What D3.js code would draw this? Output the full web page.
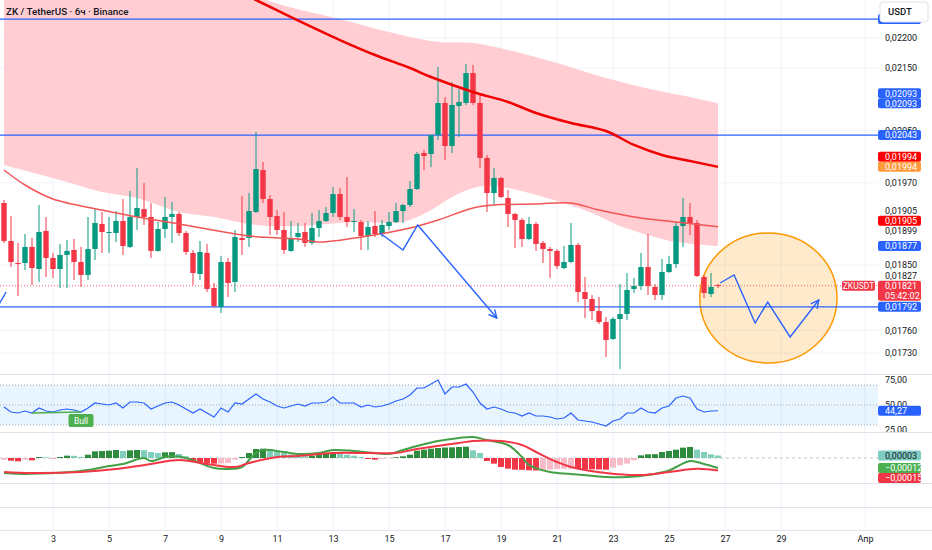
<!DOCTYPE html>
<html>
<head>
<meta charset="utf-8">
<script src="https://cdn.jsdelivr.net/npm/d3@7"></script>
<style>
  body { margin: 0; background: #fff; }
  svg { display: block; font-family: Roboto, "Noto Sans", sans-serif; }
</style>
</head>
<body>
<svg id="canvas"></svg>
<script>
// 6h candles, the first one is 1 Mar 2025 06:00 UTC
let opens = [
  0.019398, 0.018844, 0.018530, 0.018530, 0.018758, 0.018445, 0.018988, 0.018601, 0.018445, 0.018644,
  0.018715, 0.018544, 0.018361, 0.018729, 0.019090, 0.018959, 0.018959, 0.019133, 0.018758, 0.019192,
  0.019309, 0.019192, 0.018701, 0.019017, 0.019192, 0.019236, 0.018959, 0.018672, 0.018375, 0.018672,
  0.018180, 0.017918, 0.018544, 0.018263, 0.018887, 0.018887, 0.019265, 0.019892, 0.019457, 0.019206,
  0.019002, 0.018701, 0.018901, 0.018973, 0.018815, 0.019031, 0.019133, 0.019250, 0.019531, 0.019192,
  0.019119, 0.019119, 0.018916, 0.019060, 0.018944, 0.019060, 0.019119, 0.019279, 0.019368, 0.019606,
  0.020152, 0.020137, 0.020431, 0.020936, 0.020260, 0.020888, 0.020936, 0.021420, 0.020936, 0.020076,
  0.019546, 0.019771, 0.019472, 0.019236, 0.019148, 0.018872, 0.019090, 0.018815, 0.018729, 0.018701,
  0.018459, 0.018544, 0.018786, 0.018124, 0.018028, 0.017863, 0.017714, 0.017486, 0.017755, 0.017823,
  0.018166, 0.018208, 0.018473, 0.018194, 0.018083, 0.018403, 0.018515, 0.019060, 0.019192, 0.019104,
  0.018333, 0.018097, 0.018222
]
let highs = [
  0.019442, 0.019206, 0.018815, 0.018944, 0.018887, 0.019368, 0.019192, 0.018672, 0.018801, 0.018858,
  0.018872, 0.018758, 0.019192, 0.019324, 0.019265, 0.019192, 0.019279, 0.019457, 0.019576, 0.019923,
  0.019696, 0.019398, 0.019119, 0.019487, 0.019412, 0.019265, 0.018988, 0.018715, 0.018844, 0.018801,
  0.018249, 0.018629, 0.018601, 0.019002, 0.019502, 0.019546, 0.020478, 0.020014, 0.019516, 0.019294,
  0.019265, 0.019133, 0.019104, 0.019104, 0.019250, 0.019294, 0.019338, 0.019636, 0.019621, 0.019786,
  0.019309, 0.019148, 0.019133, 0.019279, 0.019148, 0.019265, 0.019398, 0.019383, 0.019726, 0.020168,
  0.020198, 0.020431, 0.021519, 0.021032, 0.021274, 0.021160, 0.021568, 0.021552, 0.021096, 0.020122,
  0.019923, 0.019786, 0.019591, 0.019250, 0.019177, 0.019192, 0.019119, 0.018844, 0.018758, 0.018729,
  0.018772, 0.019104, 0.018815, 0.018333, 0.018083, 0.018055, 0.017782, 0.017782, 0.018235, 0.018389,
  0.018319, 0.018672, 0.018944, 0.018235, 0.018587, 0.018629, 0.019104, 0.019472, 0.019398, 0.019148,
  0.018361, 0.018389, 0.018235
]
let lows = [
  0.018815, 0.018473, 0.018069, 0.018431, 0.018222, 0.018263, 0.018333, 0.018319, 0.018180, 0.018180,
  0.018291, 0.018194, 0.018291, 0.018572, 0.018672, 0.018672, 0.018829, 0.018644, 0.018744, 0.019002,
  0.019075, 0.018601, 0.018690, 0.018887, 0.018815, 0.018916, 0.018644, 0.018222, 0.018291, 0.018124,
  0.017904, 0.017836, 0.018055, 0.018124, 0.018644, 0.018758, 0.019250, 0.019398, 0.018930, 0.018930,
  0.018658, 0.018686, 0.018829, 0.018758, 0.018786, 0.018901, 0.019119, 0.019192, 0.019148, 0.019046,
  0.018973, 0.018715, 0.018715, 0.018901, 0.018901, 0.019002, 0.019104, 0.019104, 0.019338, 0.019591,
  0.019892, 0.019938, 0.020353, 0.020045, 0.020152, 0.020400, 0.020904, 0.020904, 0.019923, 0.019265,
  0.019368, 0.019472, 0.019046, 0.018744, 0.018758, 0.018858, 0.018701, 0.018530, 0.018319, 0.018445,
  0.018445, 0.018530, 0.017986, 0.017768, 0.017741, 0.017687, 0.017248, 0.017473, 0.017090, 0.017741,
  0.018111, 0.018152, 0.018083, 0.018014, 0.018014, 0.018389, 0.018459, 0.018758, 0.018930, 0.018333,
  0.018042, 0.018055, 0.018180
]
let closes = [
  0.018844, 0.018544, 0.018515, 0.018758, 0.018459, 0.018973, 0.018601, 0.018445, 0.018644, 0.018701,
  0.018544, 0.018361, 0.018729, 0.019104, 0.018973, 0.018973, 0.019133, 0.018772, 0.019192, 0.019324,
  0.019192, 0.018701, 0.019017, 0.019192, 0.019236, 0.018959, 0.018686, 0.018389, 0.018686, 0.018166,
  0.017932, 0.018544, 0.018249, 0.018901, 0.018858, 0.019279, 0.019907, 0.019457, 0.019192, 0.019002,
  0.018715, 0.018887, 0.018959, 0.018815, 0.019031, 0.019133, 0.019250, 0.019531, 0.019192, 0.019119,
  0.019133, 0.018916, 0.019046, 0.018944, 0.019075, 0.019119, 0.019279, 0.019368, 0.019606, 0.020137,
  0.020106, 0.020431, 0.020936, 0.020260, 0.020904, 0.020952, 0.021420, 0.020936, 0.020076, 0.019546,
  0.019771, 0.019487, 0.019236, 0.019148, 0.018872, 0.019090, 0.018801, 0.018729, 0.018701, 0.018487,
  0.018544, 0.018786, 0.018124, 0.018028, 0.017863, 0.017714, 0.017473, 0.017755, 0.017823, 0.018152,
  0.018208, 0.018473, 0.018208, 0.018083, 0.018403, 0.018515, 0.019060, 0.019192, 0.019104, 0.018347,
  0.018111, 0.018194, 0.018210
]

// overlays, as [candle index, price]
let slowMa = [[0, 0.02482], [20, 0.023618], [36, 0.022647], [41, 0.022355], [48, 0.021966], [53, 0.021717],
  [58, 0.021502], [61, 0.021355], [67, 0.021112], [72, 0.020952], [76, 0.020777], [81, 0.020619],
  [86, 0.020493], [90, 0.020276], [94, 0.020122], [98, 0.02003], [102, 0.01994]]
let fastMa = [[0, 0.019892], [3, 0.019666], [7, 0.019457], [14, 0.019294], [19, 0.019192], [25, 0.01909],
  [35, 0.018916], [42, 0.018872], [45, 0.018829], [52, 0.018916], [58, 0.019031], [62, 0.019148],
  [67, 0.019324], [70, 0.019368], [76, 0.019383], [81, 0.019398], [85, 0.019294], [91, 0.019177],
  [96, 0.019119], [102, 0.01905]]
let bandTop = [[0, 0.0251], [20, 0.02371], [37, 0.02267], [48, 0.022321], [55, 0.022101], [62, 0.021933],
  [67, 0.021916], [72, 0.0218], [79, 0.021585], [86, 0.021339], [93, 0.021144], [98, 0.021032], [102, 0.02093]]
let bandBottom = [[0, 0.019968], [9, 0.019711], [14, 0.019561], [19, 0.019472], [25, 0.019265], [30, 0.019192],
  [36, 0.019075], [42, 0.01906], [50, 0.019119], [57, 0.019119], [61, 0.019294], [64, 0.019487],
  [67, 0.019621], [69, 0.019651], [72, 0.019621], [79, 0.019427], [84, 0.01925], [88, 0.01906],
  [93, 0.018901], [96, 0.018829], [102, 0.01877]]

let levels = [0.02232, 0.02043, 0.01792]
let lastPrice = 0.01821
let countdown = "05:42:02"
let symbol = "ZKUSDT"

// drawings
let pathOne = [[53.7, 0.018959], [57, 0.018715], [59.1, 0.019075], [70.4, 0.017768]]
let pathTwo = [[102.3, 0.018249], [104.3, 0.018361], [107.3, 0.0177], [109.1, 0.017986], [112.3, 0.017513], [116.4, 0.018014]]
let leftStroke = [[-1.1, 0.01789], [0.3, 0.018124]]
let circleBox = [[99.4, 0.018959], [119, 0.017169]]

// RSI, as [candle index, value]
let rsiPoints = [[0, 48], [1, 43], [2, 42], [3, 44], [4, 42], [5, 47], [6, 44], [7, 43], [8, 45], [9, 46],
  [10, 45], [11, 43], [12, 47], [13, 52], [14, 51], [15, 50], [16, 52], [17, 47], [18, 53], [19, 53],
  [20, 52], [21, 46], [22, 49], [23, 52], [24, 53], [25, 50], [26, 46], [27, 42], [28, 46], [29, 42],
  [30, 38], [31, 47], [32, 43], [33, 52], [34, 51], [35, 56], [36, 61], [37, 56], [38, 53], [39, 49],
  [40, 47], [41, 49], [42, 51], [43, 49], [44, 52], [45, 52], [46, 53], [47, 58], [48, 52], [49, 52],
  [50, 52], [51, 48], [52, 50], [53, 48], [54, 49], [55, 51], [56, 54], [57, 56], [58, 60], [59, 67],
  [60, 67], [61, 71], [62, 75], [63, 61], [64, 68], [65, 68], [66, 71], [67, 63], [68, 52], [69, 46],
  [70, 48], [71, 46], [72, 43], [73, 42], [74, 39], [75, 42], [76, 39], [77, 39], [78, 38], [79, 36],
  [80, 37], [81, 42], [82, 35], [83, 34], [84, 33], [85, 31], [86, 29], [87, 34], [88, 36], [89, 42],
  [90, 42], [91, 47], [92, 43], [93, 42], [94, 47], [95, 49], [96, 57], [97, 59], [98, 57], [99, 46],
  [100, 43], [101, 44], [102, 44.27]]
let bullPoints = [[4, 42], [11, 43]]

// MACD
let macdLine = [[0, -0.00018], [2, -0.00019], [4, -0.00019], [9, -0.00017], [12, -0.000144], [15, -0.000096],
  [17, -0.000072], [20, 0], [21, -0.000036], [23, 0.000012], [24, 0.000024], [26, 0], [28, -0.00006],
  [30, -0.00012], [32, -0.000132], [34, -0.000108], [35, -0.000024], [36, 0.00006], [37, 0.000096],
  [40, 0.000072], [42, 0.000048], [45, 0.00006], [47, 0.000096], [50, 0.000084], [53, 0.00006],
  [55, 0.000048], [57, 0.000096], [59, 0.000144], [62, 0.000204], [65, 0.00024], [67, 0.000252],
  [69, 0.000216], [72, 0.000156], [74, 0.000012], [75, -0.000084], [78, -0.000168], [81, -0.000192],
  [86, -0.000228], [89, -0.000228], [92, -0.000204], [95, -0.00015], [98, -0.000036], [100, -0.000072],
  [102, -0.00012]]
let signalLine = [[0, -0.000168], [4, -0.00018], [11, -0.000168], [16, -0.000132], [21, -0.000072],
  [25, -0.000024], [29, -0.000072], [33, -0.000108], [35, -0.00006], [39, 0.000012], [42, 0.000024],
  [47, 0.00006], [52, 0.00006], [56, 0.00006], [59, 0.000108], [65, 0.00018], [67, 0.000204],
  [71, 0.000204], [74, 0.000156], [76, 0.000072], [79, -0.000048], [81, -0.000108], [86, -0.00018],
  [91, -0.000204], [95, -0.000168], [99, -0.00013], [102, -0.00015]]
let histogram = [
  -0.00002, -0.000032, -0.00004, -0.00002, -0.000028, 0.000012, 0.000008, -0.000004, 0.000012, 0.000028,
  0.000026, 0.000012, 0.00004, 0.00008, 0.000084, 0.000088, 0.000096, 0.000084, 0.000092, 0.000096,
  0.000094, 0.000072, 0.00006, 0.000068, 0.00007, 0.000048, 0.00002, -0.00004, -0.000052, -0.00006,
  -0.000068, -0.000066, -0.00006, -0.00002, 0.000012, 0.00006, 0.000108, 0.000112, 0.0001, 0.00008,
  0.00006, 0.00004, 0.000028, 0.00002, 0.000028, 0.00004, 0.000052, 0.00006, 0.000058, 0.00004,
  0.000028, 0.000012, -0.000012, -0.00002, -0.000012, -0.000004, 0.000008, 0.00002, 0.00004, 0.000088,
  0.0001, 0.000112, 0.00012, 0.000126, 0.000128, 0.000132, 0.000136, 0.000092, 0.00006, -0.000036,
  -0.000068, -0.000108, -0.000128, -0.00014, -0.000142, -0.000148, -0.00015, -0.000148, -0.00014, -0.000132,
  -0.00013, -0.000128, -0.000132, -0.000134, -0.000136, -0.000138, -0.00014, -0.000116, -0.000088, -0.000068,
  -0.000028, 0.000032, 0.000044, 0.000046, 0.000072, 0.000084, 0.0001, 0.000124, 0.000132, 0.0001,
  0.000072, 0.000044, 0.00003
]

// axis labels
let priceTicks = [0.022, 0.0215, 0.0205, 0.0197, 0.0185, 0.0176, 0.0173]
let rsiTicks = [75, 50, 25]
let dayTicks = [3, 5, 7, 9, 11, 13, 15, 17, 19, 21, 23, 25, 27, 29]
let monthLabel = "Апр"
let title = "ZK / TetherUS · 6ч · Binance"

// right-axis value tags, top to bottom
let tagValues = [0.02232, 0.02093, 0.02093, 0.02043, 0.01994, 0.01994, 0.01905, 0.01905, 0.01899, 0.01877, 0.01827, 0.01821, 0.01792]
let tagKinds = ['covered', 'blue', 'blue', 'blue', 'red', 'orange', 'plain', 'red', 'plain', 'blue', 'plain', 'last', 'blue']

const width = 932
const height = 550
const plotRight = 878
const mainBottom = 374
const up = '#089981'
const down = '#f23645'
const blue = '#2962ff'

let canvas = d3.select('#canvas').attr('width', width).attr('height', height)
let defs = canvas.append('defs')

let clip = (id, x, y, w, h) => {
  defs.append('clipPath').attr('id', id).append('rect')
    .attr('x', x).attr('y', y).attr('width', w).attr('height', h)
}
clip('main', 0, 0, plotRight, mainBottom)
clip('rsi', 0, 375, plotRight, 57)
clip('macd', 0, 433, plotRight, 50)
clip('rsiAxis', plotRight, 375, width - plotRight, 57)

defs.append('marker').attr('id', 'arrow')
  .attr('viewBox', '0 0 10 10').attr('refX', 9).attr('refY', 5)
  .attr('markerWidth', 10).attr('markerHeight', 10)
  .attr('markerUnits', 'userSpaceOnUse').attr('orient', 'auto')
  .append('path').attr('d', 'M1,1 L9,5 L1,9')
  .attr('fill', 'none').attr('stroke', blue).attr('stroke-width', 1.4)

// scales
const T0 = Date.UTC(2025, 2, 1, 6)
const H6 = 6 * 3600 * 1000
let t = (i) => new Date(T0 + i * H6)

let xScale = d3.scaleUtc()
  .domain([new Date(Date.UTC(2025, 2, 1)), new Date(Date.UTC(2025, 3, 1))])
  .range([-3, 865])
let yScale = d3.scaleLog().domain([0.0173, 0.022]).range([353, 38])
let rsiScale = d3.scaleLinear().domain([25, 75]).range([430, 380])
let macdScale = d3.scaleLinear().domain([-0.0003, 0.0003]).range([483, 433])

let cx = (i) => xScale(t(i))

let priceFmt = (v) => d3.format('.5f')(v).replace('.', ',')
let macdFmt = (v) => (v < 0 ? '\u2212' : '') + d3.format('.5f')(Math.abs(v)).replace('.', ',')

// grid
let tickDates = dayTicks.map(d => new Date(Date.UTC(2025, 2, d)))
tickDates.push(new Date(Date.UTC(2025, 3, 1)))

canvas.append('g').selectAll('line').data(tickDates).enter().append('line')
  .attr('x1', d => xScale(d)).attr('x2', d => xScale(d))
  .attr('y1', 0).attr('y2', 530)
  .attr('stroke', '#f0f3fa')

canvas.append('g').selectAll('line').data(priceTicks).enter().append('line')
  .attr('x1', 0).attr('x2', plotRight)
  .attr('y1', d => yScale(d)).attr('y2', d => yScale(d))
  .attr('stroke', '#f0f3fa')

canvas.append('g').selectAll('line').data([374.5, 432.5, 483.5, 507.5, 530.5]).enter().append('line')
  .attr('x1', 0).attr('x2', width)
  .attr('y1', d => d).attr('y2', d => d)
  .attr('stroke', '#e0e3eb')

// ---- main pane ----
let main = canvas.append('g').attr('clip-path', 'url(#main)')

let smooth = d3.line().x(d => cx(d[0])).y(d => yScale(d[1])).curve(d3.curveCatmullRom)
let straight = d3.line().x(d => cx(d[0])).y(d => yScale(d[1]))

let bandPath = smooth(bandTop) + 'L' + smooth(bandBottom.slice().reverse()).slice(1) + 'Z'
main.append('path').attr('d', bandPath).attr('fill', '#ffcdd2')

let x0 = cx(circleBox[0][0]), x1 = cx(circleBox[1][0])
let y0 = yScale(circleBox[0][1]), y1 = yScale(circleBox[1][1])
main.append('ellipse')
  .attr('cx', (x0 + x1) / 2).attr('cy', (y0 + y1) / 2)
  .attr('rx', (x1 - x0) / 2).attr('ry', (y1 - y0) / 2)
  .attr('fill', 'rgba(255,152,0,0.2)').attr('stroke', '#ff9800').attr('stroke-width', 1.5)

main.selectAll('.level').data(levels).enter().append('line')
  .attr('class', 'level')
  .attr('x1', 0).attr('x2', plotRight)
  .attr('y1', d => yScale(d)).attr('y2', d => yScale(d))
  .attr('stroke', blue).attr('stroke-width', 1.3)

main.append('line')
  .attr('x1', 0).attr('x2', plotRight)
  .attr('y1', yScale(lastPrice)).attr('y2', yScale(lastPrice))
  .attr('stroke', down).attr('stroke-width', 0.8).attr('stroke-dasharray', '1,2')

let candles = opens.map((o, i) => ({ i: i, o: o, h: highs[i], l: lows[i], c: closes[i] }))

main.append('g').selectAll('line').data(candles).enter().append('line')
  .attr('x1', d => cx(d.i)).attr('x2', d => cx(d.i))
  .attr('y1', d => yScale(d.h)).attr('y2', d => yScale(d.l))
  .attr('stroke', d => d.c >= d.o ? up : down).attr('stroke-width', 1)

main.append('g').selectAll('rect').data(candles).enter().append('rect')
  .attr('x', d => cx(d.i) - 2.7)
  .attr('width', 5.4)
  .attr('y', d => yScale(Math.max(d.o, d.c)))
  .attr('height', d => Math.max(1, yScale(Math.min(d.o, d.c)) - yScale(Math.max(d.o, d.c))))
  .attr('fill', d => d.c >= d.o ? up : down)

main.append('path').attr('d', smooth(fastMa))
  .attr('fill', 'none').attr('stroke', '#f25555').attr('stroke-width', 1.5)
main.append('path').attr('d', smooth(slowMa))
  .attr('fill', 'none').attr('stroke', '#f00000').attr('stroke-width', 2.5)

main.append('path').attr('d', straight(pathOne))
  .attr('fill', 'none').attr('stroke', blue).attr('stroke-width', 1.4).attr('marker-end', 'url(#arrow)')
main.append('path').attr('d', straight(pathTwo))
  .attr('fill', 'none').attr('stroke', blue).attr('stroke-width', 1.4).attr('marker-end', 'url(#arrow)')
main.append('path').attr('d', straight(leftStroke))
  .attr('fill', 'none').attr('stroke', blue).attr('stroke-width', 1.4)

// ---- RSI pane ----
let rsi = canvas.append('g').attr('clip-path', 'url(#rsi)')
rsi.append('rect')
  .attr('x', 0).attr('width', plotRight)
  .attr('y', rsiScale(70)).attr('height', rsiScale(30) - rsiScale(70))
  .attr('fill', 'rgba(33,150,243,0.1)')
rsi.selectAll('.rl').data([70, 50, 30]).enter().append('line')
  .attr('x1', 0).attr('x2', plotRight)
  .attr('y1', d => rsiScale(d)).attr('y2', d => rsiScale(d))
  .attr('stroke', '#9598a1').attr('stroke-width', 0.8).attr('stroke-dasharray', '1,2')

let rsiLine = d3.line().x(d => cx(d[0])).y(d => rsiScale(d[1]))
rsi.append('path').attr('d', rsiLine(rsiPoints))
  .attr('fill', 'none').attr('stroke', blue).attr('stroke-width', 1.2)
rsi.append('path').attr('d', rsiLine(bullPoints))
  .attr('fill', 'none').attr('stroke', '#4caf50').attr('stroke-width', 1.5)

let bullX = cx(bullPoints[1][0])
let bullY = rsiScale(bullPoints[1][1])
rsi.append('rect')
  .attr('x', bullX - 12.5).attr('y', bullY + 2).attr('width', 25).attr('height', 13).attr('rx', 2)
  .attr('fill', '#4caf50')
rsi.append('text')
  .attr('x', bullX).attr('y', bullY + 11.5).attr('text-anchor', 'middle')
  .attr('fill', '#fff').attr('font-size', 8.5).text('Bull')

// ---- MACD pane ----
let macd = canvas.append('g').attr('clip-path', 'url(#macd)')
macd.append('line')
  .attr('x1', 0).attr('x2', plotRight)
  .attr('y1', macdScale(0)).attr('y2', macdScale(0))
  .attr('stroke', '#b2b5be').attr('stroke-width', 0.8).attr('stroke-dasharray', '3,3')

let histColor = (v, i) => {
  let prev = i > 0 ? histogram[i - 1] : v
  if (v >= 0) return v > prev ? '#2e8b3e' : '#80cfba'
  return v < prev ? '#f23645' : '#f8bbc8'
}
macd.append('g').selectAll('rect').data(histogram).enter().append('rect')
  .attr('x', (d, i) => cx(i) - 3)
  .attr('width', 6)
  .attr('y', d => macdScale(Math.max(0, d)))
  .attr('height', d => Math.abs(macdScale(d) - macdScale(0)))
  .attr('fill', (d, i) => histColor(d, i))

let macdPath = d3.line().x(d => cx(d[0])).y(d => macdScale(d[1])).curve(d3.curveCatmullRom)
macd.append('path').attr('d', macdPath(macdLine))
  .attr('fill', 'none').attr('stroke', '#43a047').attr('stroke-width', 2)
macd.append('path').attr('d', macdPath(signalLine))
  .attr('fill', 'none').attr('stroke', '#f23645').attr('stroke-width', 2)

// ---- right axis ----
let axis = canvas.append('g').attr('font-size', 9).attr('fill', '#131722')

axis.selectAll('.pt').data(priceTicks).enter().append('text')
  .attr('x', 885).attr('y', d => yScale(d) + 3.2).text(d => priceFmt(d))

let rsiAxis = canvas.append('g').attr('font-size', 9).attr('fill', '#131722').attr('clip-path', 'url(#rsiAxis)')
rsiAxis.selectAll('text').data(rsiTicks).enter().append('text')
  .attr('x', 885).attr('y', d => rsiScale(d) + 3.2).text(d => d3.format('.2f')(d).replace('.', ','))

// stack value tags so they do not overlap
let layout = (items, dir) => {
  items.forEach(d => { d.y = d.base })
  if (dir === 'up') {
    for (let k = items.length - 2; k >= 0; k--) {
      let lower = items[k + 1]
      items[k].y = Math.min(items[k].y, lower.y - lower.top - items[k].bottom)
    }
  } else {
    for (let k = 1; k < items.length; k++) {
      let upper = items[k - 1]
      items[k].y = Math.max(items[k].y, upper.y + upper.bottom + items[k].top)
    }
  }
  return items
}

let tagFill = { blue: blue, covered: blue, red: '#ff0000', orange: '#ff9a3c', last: down }

let tags = layout(tagValues.map((v, k) => ({
  v: v, kind: tagKinds[k], base: yScale(v),
  top: 5, bottom: tagKinds[k] === 'last' ? 15 : 5
})), 'up')

let drawTag = (g, yc, fill, lines, color) => {
  g.append('rect')
    .attr('x', plotRight).attr('y', yc - 5).attr('width', 43)
    .attr('height', 10 * Math.max(1, lines.length)).attr('rx', 2).attr('fill', fill)
  lines.forEach((s, k) => {
    g.append('text').attr('x', 885).attr('y', yc + 3.2 + k * 9.5)
      .attr('fill', color).attr('font-size', 9).text(s)
  })
}

tags.forEach(d => {
  if (d.kind === 'plain') {
    axis.append('text').attr('x', 885).attr('y', d.y + 3.2).text(priceFmt(d.v))
  } else if (d.kind === 'covered') {
    // sits under the currency header, only its lower edge shows
    drawTag(canvas, d.y, tagFill.covered, [], '#fff')
  } else if (d.kind === 'last') {
    drawTag(canvas, d.y, tagFill.last, [priceFmt(d.v), countdown], '#fff')
  } else {
    drawTag(canvas, d.y, tagFill[d.kind], [priceFmt(d.v)], '#fff')
  }
})

// symbol tag next to the last price
canvas.append('rect')
  .attr('x', 842).attr('y', yScale(lastPrice) - 5).attr('width', 33).attr('height', 10).attr('rx', 2)
  .attr('fill', down)
canvas.append('text')
  .attr('x', 858.5).attr('y', yScale(lastPrice) + 3).attr('text-anchor', 'middle')
  .attr('fill', '#fff').attr('font-size', 8.5).text(symbol)

// RSI tag
let lastRsi = rsiPoints[rsiPoints.length - 1][1]
drawTag(canvas, rsiScale(lastRsi), blue, [d3.format('.2f')(lastRsi).replace('.', ',')], '#fff')

// MACD tags
let macdTags = layout([
  { v: histogram[histogram.length - 1], fill: '#80cbc4', color: '#131722' },
  { v: macdLine[macdLine.length - 1][1], fill: '#4caf50', color: '#fff' },
  { v: signalLine[signalLine.length - 1][1], fill: '#f23645', color: '#fff' }
].map(d => Object.assign(d, { base: macdScale(d.v), top: 5, bottom: 5 })), 'down')
macdTags.forEach(d => drawTag(canvas, d.y, d.fill, [macdFmt(d.v)], d.color))

// currency header
canvas.append('rect')
  .attr('x', 880).attr('y', 2).attr('width', 48).attr('height', 20).attr('rx', 3)
  .attr('fill', '#fff').attr('stroke', '#e0e3eb')
canvas.append('text')
  .attr('x', 888).attr('y', 15).attr('font-size', 9.5).attr('font-weight', 500)
  .attr('fill', '#131722').text('USDT')

// ---- time axis ----
let xAxis = d3.axisBottom(xScale)
  .tickValues(tickDates)
  .tickSize(0)
  .tickPadding(0)
  .tickFormat(d => d.getUTCDate() === 1 ? monthLabel : d.getUTCDate())

let xg = canvas.append('g')
  .attr('id', 'x-axis')
  .attr('transform', 'translate(0, 536)')
  .call(xAxis)
xg.select('.domain').remove()
xg.selectAll('text')
  .attr('font-size', 9).attr('fill', '#131722')
  .attr('font-family', 'Roboto, "Noto Sans", sans-serif')

// title
canvas.append('text')
  .attr('x', 6).attr('y', 14.5)
  .attr('font-size', 9.8).attr('font-weight', 500).attr('fill', '#131722')
  .text(title)
</script>
</body>
</html>
